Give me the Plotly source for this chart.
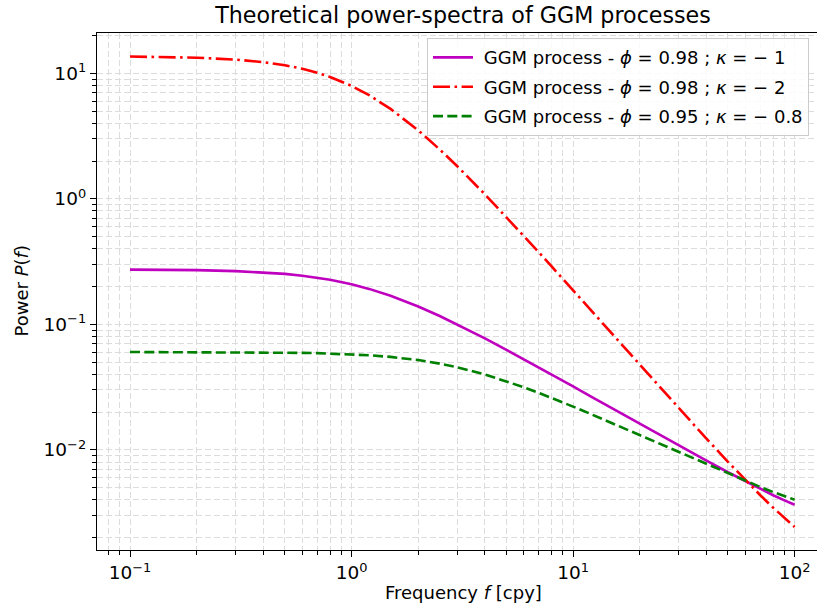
import plotly.graph_objects as go

freq = [0.1, 0.15, 0.2, 0.3, 0.4, 0.5, 0.6, 0.7, 0.8, 1, 1.2, 1.5, 2, 2.5, 3, 4, 5, 6, 7, 8,
        10, 12, 15, 20, 25, 30, 40, 50, 60, 70, 80, 90, 100]

p_phi098_k1 = [0.2730, 0.2718, 0.2701, 0.2654, 0.2593, 0.2521, 0.2439, 0.2353, 0.2264, 0.2085,
               0.1916, 0.1688, 0.1387, 0.1164, 0.0998, 0.0772, 0.0626, 0.0526, 0.0453, 0.0398,
               0.0320, 0.0267, 0.0214, 0.0161, 0.0129, 0.0108, 0.00820, 0.00663, 0.00560,
               0.00488, 0.00435, 0.00396, 0.00365]

p_phi098_k2 = [13.60, 13.48, 13.31, 12.86, 12.27, 11.59, 10.86, 10.10, 9.353, 7.937,
               6.697, 5.202, 3.509, 2.474, 1.819, 1.086, 0.716, 0.505, 0.375, 0.289,
               0.1866, 0.1303, 0.0838, 0.0475, 0.0306, 0.0214, 0.01226, 0.00803, 0.00573,
               0.00435, 0.00346, 0.00286, 0.00243]

p_phi095_k08 = [0.06017, 0.06014, 0.06009, 0.05996, 0.05977, 0.05954, 0.05925, 0.05892, 0.05855,
                0.05768, 0.05669, 0.05500, 0.05188, 0.04865, 0.04550, 0.03987, 0.03524, 0.03150,
                0.02845, 0.02595, 0.02211, 0.01931, 0.01630, 0.01306, 0.01099, 0.00954, 0.00764,
                0.00646, 0.00564, 0.00506, 0.00461, 0.00427, 0.00401]

names = ["\u00a0GGM process - <i>ϕ</i> = 0.98 ; <i>κ</i> = − 1",
         "\u00a0GGM process - <i>ϕ</i> = 0.98 ; <i>κ</i> = − 2",
         "\u00a0GGM process - <i>ϕ</i> = 0.95 ; <i>κ</i> = − 0.8"]

x_tickvals = [0.1, 1, 10, 100]
x_ticktext = ["10<sup>−1</sup>", "10<sup>0</sup>", "10<sup>1</sup>", "10<sup>2</sup>"]
y_tickvals = [0.01, 0.1, 1, 10]
y_ticktext = ["10<sup>−2</sup>", "10<sup>−1</sup>", "10<sup>0</sup>", "10<sup>1</sup>"]

x_minor = [0.08, 0.09] + [m * d for d in (0.1, 1, 10) for m in range(2, 10)]
y_minor = [m * d for d in (0.001, 0.01, 0.1, 1) for m in range(2, 10)] + [20]

FONT = "DejaVu Sans"
LW = 2.6
fig = go.Figure()
fig.add_trace(go.Scatter(x=freq, y=p_phi098_k1, mode="lines", name=names[0], legendgroup="a",
                         line=dict(color="#bf00bf", width=LW)))
fig.add_trace(go.Scatter(x=freq, y=p_phi098_k2, mode="lines", name=names[1], legendgroup="b",
                         line=dict(color="#ff0000", width=LW, dash="17px,4.5px,2.6px,4.5px")))
fig.add_trace(go.Scatter(x=freq, y=p_phi095_k08, mode="lines", name=names[2], legendgroup="c",
                         line=dict(color="#008000", width=LW, dash="10px,4.3px")))

grid_col = "#dcdcdc"
axis_common = dict(
    type="log", showline=True, linecolor="black", linewidth=1.3,
    ticks="outside", ticklen=6, tickwidth=1.3, tickcolor="black",
    showgrid=True, gridcolor=grid_col, gridwidth=1, griddash="6px,3px",
    zeroline=False, tickfont=dict(family=FONT, size=18.5, color="black"),
    automargin=False,
)

def minor(vals):
    return dict(tickmode="array", tickvals=vals, ticks="outside", ticklen=3.5, tickwidth=1,
                tickcolor="black", showgrid=True, gridcolor=grid_col, gridwidth=1,
                griddash="6px,3px")

fig.update_layout(
    width=817, height=613,
    margin=dict(l=97, r=0, t=33, b=63),
    plot_bgcolor="white", paper_bgcolor="white",
    font=dict(family=FONT, color="black"),
    title=dict(text="Theoretical power-spectra of GGM processes", x=(463 - 97) / 720, xref="paper",
               xanchor="center", y=0.975, yref="container", yanchor="middle",
               font=dict(family=FONT, size=22.2, color="black")),
    xaxis=dict(axis_common, mirror=True, range=[-1.149, 2.101], tickvals=x_tickvals,
               ticktext=x_ticktext, minor=minor(x_minor)),
    yaxis=dict(axis_common, mirror=False, range=[-2.798, 1.321], tickvals=y_tickvals,
               ticktext=y_ticktext, minor=minor(y_minor)),
    legend=dict(x=(427 - 97) / 720, xanchor="left", y=0.99, yanchor="top",
                bgcolor="rgba(255,255,255,0.85)", bordercolor="#cccccc", borderwidth=1,
                font=dict(family=FONT, size=18, color="black"), tracegroupgap=3,
                itemwidth=40),
    showlegend=True,
    annotations=[
        dict(text="Frequency <i>f</i> [cpy]", x=(463 - 97) / 720, y=0, xref="paper", yref="paper",
             xanchor="center", yanchor="middle", yshift=-42, showarrow=False,
             font=dict(family=FONT, size=18, color="black")),
        dict(text="Power <i>P</i>(<i>f</i>)", x=0, y=0.5, xref="paper", yref="paper",
             xanchor="center", yanchor="middle", xshift=-76, textangle=-90, showarrow=False,
             font=dict(family=FONT, size=18, color="black")),
    ],
)

fig.write_html("out.html", config={"displayModeBar": False},
               post_script="document.body.style.margin='0';document.body.style.overflow='hidden';")
